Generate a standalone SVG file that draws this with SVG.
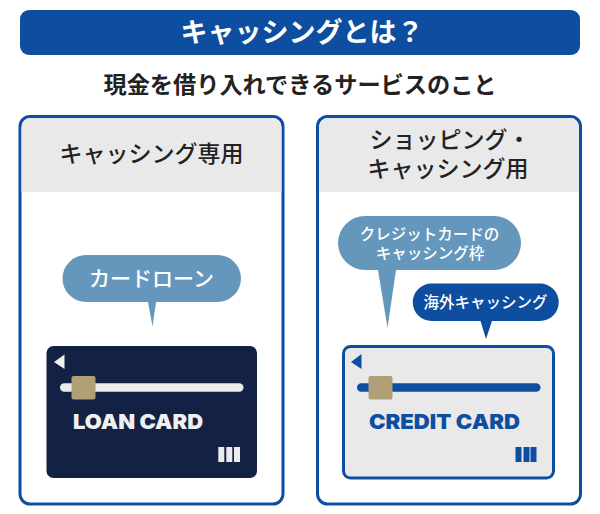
<svg xmlns="http://www.w3.org/2000/svg" width="600" height="514" viewBox="0 0 600 514">
<style>
text{font-family:"Noto Sans CJK JP","Noto Sans",sans-serif;text-anchor:middle;font-weight:500}
.dark{fill:#222}
.white{fill:#fff}
.panel{fill:#fff;stroke:#0d4ea0;stroke-width:3}
.head{fill:#e9e9ea}
.light{fill:#6597bd}
.blue{fill:#0d4ea0}
.navy{fill:#132145}
.chip{fill:#b19f78}
.card{font-family:Inter,"Liberation Sans",sans-serif;font-weight:900;font-size:20.500px}
</style>
<rect width="600" height="514" fill="#fff"/>
<g id="title">
<rect x="20" y="10" width="560" height="45" rx="9" class="blue"/>
<text x="302" y="41.500" font-size="27" class="white" style="font-weight:700">キャッシングとは？</text>
</g>
<g id="subtitle">
<text x="300" y="92.500" font-size="23.200" class="dark" style="font-weight:700">現金を借り入れできるサービスのこと</text>
</g>
<g id="panel-loan">
<rect x="20" y="116.500" width="263" height="387.500" rx="10" class="panel"/>
<path d="M21.500 192V128a10 10 0 0 1 10-10H271.500a10 10 0 0 1 10 10V192Z" class="head"/>
<text x="151.500" y="162" font-size="23" class="dark">キャッシング専用</text>
</g>
<g id="panel-credit">
<rect x="317.500" y="116.500" width="263" height="387.500" rx="10" class="panel"/>
<path d="M319 192V128a10 10 0 0 1 10-10H569a10 10 0 0 1 10 10V192Z" class="head"/>
<text font-size="23" class="dark"><tspan x="450" y="148">ショッピング・</tspan><tspan x="448" y="177">キャッシング用</tspan></text>
</g>
<g id="bubble-loan">
<path d="M86 255H217.500a23.500 23.500 0 0 1 0 47H156L152.500 326.500L148 302H86a23.500 23.500 0 0 1 0-47Z" class="light"/>
<text x="151.500" y="286" font-size="21" class="white">カードローン</text>
</g>
<g id="bubble-limit">
<path d="M365 216H494a27 27 0 0 1 0 54H396L387.500 328L378 270H365a27 27 0 0 1 0-54Z" class="light"/>
<text font-size="15.500" class="white"><tspan x="429.500" y="240">クレジットカードの</tspan><tspan x="430" y="258.500">キャッシング枠</tspan></text>
</g>
<g id="bubble-overseas">
<path d="M431.500 283.500H540a18.750 18.750 0 0 1 0 37.500H492L486 339L480.500 321H431.500a18.750 18.750 0 0 1 0-37.500Z" class="blue"/>
<text x="485.500" y="307.500" font-size="15.500" class="white">海外キャッシング</text>
</g>
<g id="loan-card">
<rect x="46.500" y="346" width="210.500" height="132" rx="7" class="navy"/>
<path d="M54 362L64.500 354.500V369Z" fill="#f0f0f0"/>
<rect x="60" y="383.300" width="183.500" height="8.500" rx="4.250" fill="#ebebec"/>
<rect x="71.500" y="376" width="24" height="23.500" rx="2" class="chip"/>
<text x="138" y="429" class="card" fill="#f0f0f0" textLength="130" lengthAdjust="spacingAndGlyphs">LOAN CARD</text>
<path d="M218.300 447h6v15h-6ZM226.300 447h6v15h-6ZM234 447h6v15h-6Z" fill="#ebebec"/>
</g>
<g id="credit-card">
<rect x="343.500" y="346.500" width="210" height="131.500" rx="7" fill="#e9e9ea" stroke="#0d4ea0" stroke-width="3"/>
<path d="M351 362L361.500 354V369Z" class="blue"/>
<rect x="357" y="383.300" width="183.500" height="8.500" rx="4.250" class="blue"/>
<rect x="368.500" y="376" width="24" height="23.500" rx="2" class="chip"/>
<text x="444.500" y="429" class="card blue" textLength="151" lengthAdjust="spacingAndGlyphs">CREDIT CARD</text>
<path d="M515.500 447h6v15h-6ZM523.500 447h6v15h-6ZM530.500 447h6v15h-6Z" class="blue"/>
</g>
</svg>
